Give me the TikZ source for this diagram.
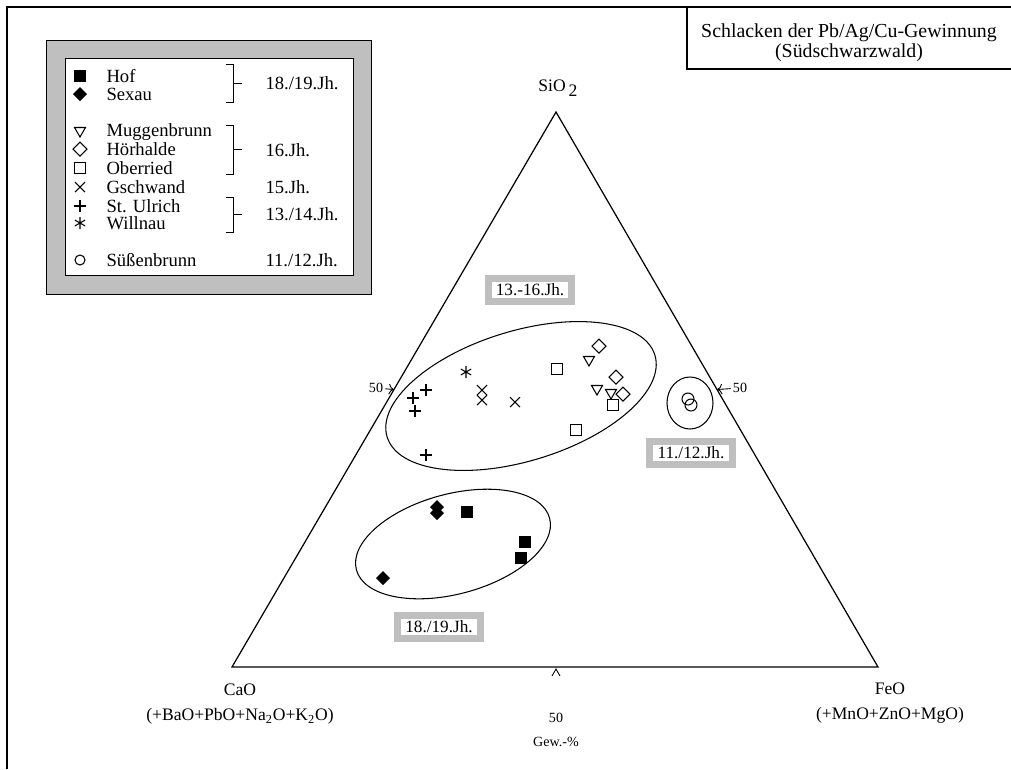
\documentclass[tikz,border=0pt]{standalone}
\usepackage{fontspec}
\setmainfont{Liberation Serif}
\usetikzlibrary{arrows.meta}

\tikzset{
  lbl/.style={font=\fontsize{10}{12}\selectfont, inner sep=1pt},
  leglbl/.style={font=\fontsize{10.6}{12}\selectfont, inner sep=0pt, anchor=west},
  lbltwo/.style={font=\fontsize{10}{14.7}\selectfont, inner sep=1pt, align=center},
  smalllbl/.style={font=\fontsize{8}{9}\selectfont, inner sep=1pt},
  legendframe/.style={draw, line width=0.6pt, double=gray!50, double distance=10pt, fill=white},
  jhbox/.style={draw, line width=0.5pt, double=gray!50, double distance=3.5pt, fill=white,
    minimum width=1.66cm, minimum height=0.46cm, inner sep=0pt, font=\fontsize{9.8}{11}\selectfont},
  tick/.style={-{To[length=3pt,width=6pt]}, line width=0.5pt},
  pics/hof/.style={code={\fill (-6,-6) rectangle (6,6);}},
  pics/sexau/.style={code={\fill (0,-7) -- (7,0) -- (0,7) -- (-7,0) -- cycle;}},
  pics/muggen/.style={code={\draw (-5.5,-4.5) -- (5.5,-4.5) -- (0,5) -- cycle;}},
  pics/hoerhalde/.style={code={\draw (0,-7) -- (7,0) -- (0,7) -- (-7,0) -- cycle;}},
  pics/oberried/.style={code={\draw (-5.5,-5.5) rectangle (5.5,5.5);}},
  pics/gschwand/.style={code={\draw (-5,-5) -- (5,5) (-5,5) -- (5,-5);}},
  pics/ulrich/.style={code={\draw (-6,0) -- (6,0) (0,-6) -- (0,6);}},
  pics/willnau/.style={code={\draw (0,-6) -- (0,6) (-5.2,-3) -- (5.2,3) (-5.2,3) -- (5.2,-3);}},
  pics/suessen/.style={code={\draw (0,0) circle (5);}},
}

\begin{document}
\begin{tikzpicture}[x=0.02cm, y=-0.02cm, line width=0.6pt]
  \useasboundingbox (0,0) rectangle (1011,769);
  % frame
  \draw (7,769) -- (7,7) -- (1011,7);
  \draw (687,7) -- (687,69) -- (1011,69);
  \node[lbl, align=center, font=\fontsize{11.3}{11.5}\selectfont] (title) at (849,43)
    {Schlacken der Pb/Ag/Cu-Gewinnung\\(Südschwarzwald)};

  % legend
  \draw[legendframe] (56,49.5) rectangle (362.5,285);
  \pic at (80,76) {hof};
  \pic at (80,94) {sexau};
  \pic at (80,132) {muggen};
  \pic at (80,149) {hoerhalde};
  \pic at (80,168) {oberried};
  \pic at (80,187) {gschwand};
  \pic at (80,206) {ulrich};
  \pic at (80,223) {willnau};
  \pic at (80,260) {suessen};
  \foreach \y/\name in {76/Hof, 94/Sexau, 132/Muggenbrunn, 149/Hörhalde, 168/Oberried,
      187/Gschwand, 206/St. Ulrich, 223/Willnau, 260/Süßenbrunn}
    \node[leglbl] (leg\y) at (106,\y) {\name};
  \foreach \top/\bot in {64/102, 125/174, 197/232}{
    \draw[line width=0.5pt] (226,\top) -- (233,\top) -- (233,\bot) -- (226,\bot);
    \draw[line width=0.5pt] (233,{(\top+\bot)/2}) -- (242,{(\top+\bot)/2});
  }
  \foreach \y/\jh in {83/{18./19.Jh.}, 150/{16.Jh.}, 187/{15.Jh.}, 214/{13./14.Jh.}, 260/{11./12.Jh.}}
    \node[leglbl] (jh\y) at (265,\y) {\jh};

  % triangle
  \coordinate (ca) at (232,667);
  \coordinate (fe) at (878,667);
  \coordinate (si) at (556,112);
  \draw[line width=0.7pt] (ca) -- (fe) -- (si) -- cycle;
  \node[lbl] (silbl) at (558,88) {SiO\,\raisebox{-0.55ex}{2}};
  \node[lbltwo] (calbl) at (240,704) {CaO\\(+BaO+PbO+Na\textsubscript{2}O+K\textsubscript{2}O)};
  \node[lbltwo] (felbl) at (890,703) {FeO\\(+MnO+ZnO+MgO)};

  % 50 marks
  \coordinate (lmid) at (394,389.5);
  \coordinate (rmid) at (717,389.5);
  \coordinate (bmid) at (556,667);
  \node[smalllbl] (l50) at (376,388) {50};
  \node[smalllbl] (r50) at (740,388) {50};
  \node[smalllbl] (b50) at (556,718) {50};
  \node[smalllbl] (gew) at (556,742) {Gew.-\%};
  \draw[tick] (l50) -- (lmid);
  \draw[tick] (r50) -- (rmid);
  \draw[line width=0.5pt] ([shift={(-4,9)}]bmid) -- ([shift={(0,2)}]bmid) -- ([shift={(4,9)}]bmid);

  % groups
  \draw[rotate around={17:(521,396)}] (521,396) ellipse [x radius=140, y radius=65];
  \draw[rotate around={15:(453,544)}] (453,544) ellipse [x radius=100, y radius=50];
  \draw (690,403) ellipse [x radius=23, y radius=26];
  \node[jhbox] (g1316) at (530,290) {13.-16.Jh.};
  \node[jhbox] (g1112) at (691,453) {11./12.Jh.};
  \node[jhbox] (g1819) at (439,627) {18./19.Jh.};

  % samples
  \foreach \p in {(467,512),(525,542),(521,558)} \pic at \p {hof};
  \foreach \p in {(437,507),(437,513),(383,578)} \pic at \p {sexau};
  \foreach \p in {(589,361),(597,390),(611,394)} \pic at \p {muggen};
  \foreach \p in {(599,346),(616,377),(623,394)} \pic at \p {hoerhalde};
  \foreach \p in {(557,369),(613,405),(576,430)} \pic at \p {oberried};
  \foreach \p in {(482,390),(482,400),(515,402)} \pic at \p {gschwand};
  \foreach \p in {(426,390),(413,398),(415,411),(426,455)} \pic at \p {ulrich};
  \pic at (466,372) {willnau};
  \foreach \p in {(688,399),(691,405)} \draw \p circle (6);
\end{tikzpicture}
\end{document}
